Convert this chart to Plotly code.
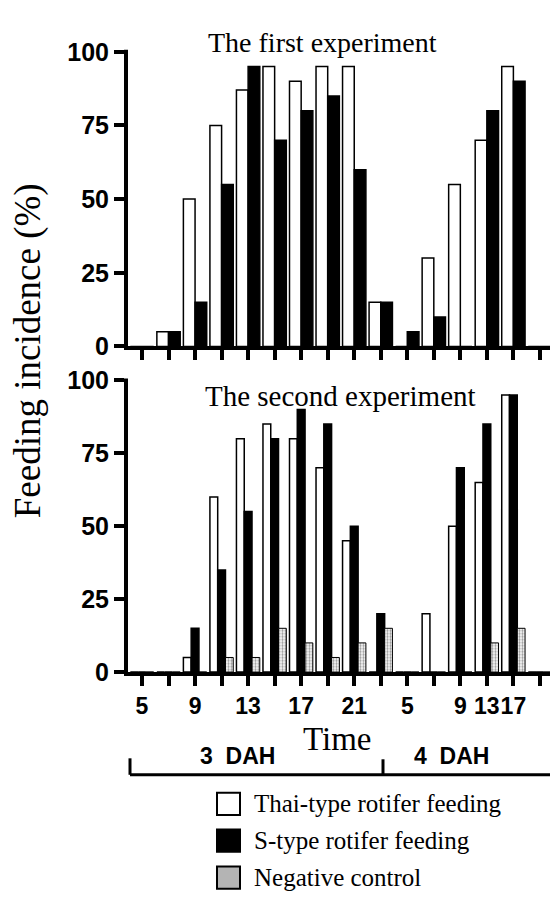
import plotly.graph_objects as go

# Sampling times (hour of day) on 3 and 4 days after hatching
slot_labels = ["5", "", "9", "", "13", "", "17", "", "21", "", "5", "", "9", "13", "17", ""]

# First experiment: feeding incidence (%)
exp1_thai = [0, 5, 50, 75, 87, 95, 90, 95, 95, 15, 0, 30, 55, 70, 95, 0]
exp1_stype = [0, 5, 15, 55, 95, 70, 80, 85, 60, 15, 5, 10, 0, 80, 90, 0]

# Second experiment: feeding incidence (%)
exp2_thai = [0, 0, 5, 60, 80, 85, 80, 70, 45, 0, 0, 20, 50, 65, 95, 0]
exp2_stype = [0, 0, 15, 35, 55, 80, 90, 85, 50, 20, 0, 0, 70, 85, 95, 0]
exp2_neg = [0, 0, 0, 5, 5, 15, 10, 5, 10, 15, 0, 0, 0, 10, 15, 0]

y_ticks = [0, 25, 50, 75, 100]

W, H = 550, 908
SANS = "Liberation Sans, Arial, sans-serif"
SERIF = "Liberation Serif, Times New Roman, serif"


def px(x):
    return x / W


def py(y):
    return 1 - y / H


xs = list(range(len(slot_labels)))
line_w = 1.5

fig = go.Figure()

fig.add_trace(go.Bar(x=xs, y=exp1_thai, marker=dict(color="white", line=dict(color="black", width=line_w)),
                     xaxis="x", yaxis="y", showlegend=False))
fig.add_trace(go.Bar(x=xs, y=exp1_stype, marker=dict(color="black", line=dict(color="black", width=line_w)),
                     xaxis="x", yaxis="y", showlegend=False))

fig.add_trace(go.Bar(x=xs, y=exp2_thai, marker=dict(color="white", line=dict(color="black", width=line_w)),
                     xaxis="x2", yaxis="y2", showlegend=False))
fig.add_trace(go.Bar(x=xs, y=exp2_stype, marker=dict(color="black", line=dict(color="black", width=line_w)),
                     xaxis="x2", yaxis="y2", showlegend=False))
fig.add_trace(go.Bar(x=xs, y=exp2_neg,
                     marker=dict(color="white", line=dict(color="black", width=1),
                                 pattern=dict(shape=".", fgcolor="#333333", bgcolor="white",
                                              size=3, solidity=0.45)),
                     xaxis="x2", yaxis="y2", showlegend=False))

x_range = [-0.528, 15.38]
axis_common = dict(showline=True, linecolor="black", linewidth=4, ticks="outside",
                   tickwidth=4, ticklen=10, tickcolor="black", showgrid=False, zeroline=False,
                   tickangle=0)
y_font = dict(family=SANS, size=25, color="black", weight="bold")
x_font = dict(family=SANS, size=23, color="black", weight="bold")

fig.update_layout(
    width=W, height=H,
    margin=dict(l=0, r=0, t=0, b=0),
    paper_bgcolor="white", plot_bgcolor="white",
    barmode="group", bargap=0.12, bargroupgap=0,
    xaxis=dict(domain=[px(128), 1], range=x_range, anchor="y", tickfont=x_font,
               tickvals=xs, ticktext=slot_labels, showticklabels=False, **axis_common),
    yaxis=dict(domain=[py(343), py(39)], range=[0, 100], anchor="x", tickfont=y_font,
               tickvals=y_ticks, **axis_common),
    xaxis2=dict(domain=[px(128), 1], range=x_range, anchor="y2", tickfont=x_font,
                tickvals=xs, ticktext=slot_labels, **axis_common),
    yaxis2=dict(domain=[py(679), py(378)], range=[0, 100], anchor="x2", tickfont=y_font,
                tickvals=y_ticks, **axis_common),
)

annotations = [
    dict(text="The first experiment", x=px(322), y=py(29), font=dict(family=SERIF, size=28)),
    dict(text="The second experiment", x=px(340), y=py(394), font=dict(family=SERIF, size=29)),
    dict(text="Feeding incidence (%)", x=px(28), y=py(348), textangle=-90, font=dict(family=SERIF, size=37)),
    dict(text="Time", x=px(337), y=py(748), font=dict(family=SERIF, size=33)),
    dict(text="3  DAH", x=px(237), y=py(766), font=dict(family=SANS, size=23, weight="bold")),
    dict(text="4  DAH", x=px(451), y=py(766), font=dict(family=SANS, size=23, weight="bold")),
]

legend_items = [
    ("Thai-type rotifer feeding", "white", 815),
    ("S-type rotifer feeding", "black", 853),
    ("Negative control", "#b4b4b4", 891),
]

shapes = [
    # vertical axis spines of both panels
    dict(type="line", x0=px(126), x1=px(126), y0=py(345), y1=py(37)),
    dict(type="line", x0=px(126), x1=px(126), y0=py(681), y1=py(376)),
    # day bracket under the time axis
    dict(type="line", x0=px(130), x1=px(550), y0=py(785), y1=py(785)),
    dict(type="line", x0=px(130), x1=px(130), y0=py(768), y1=py(785)),
    dict(type="line", x0=px(383), x1=px(383), y0=py(769), y1=py(785)),
]
for i, s in enumerate(shapes):
    s.update(xref="paper", yref="paper", line=dict(color="black", width=4 if i < 2 else 3))

for label, fill, yc in legend_items:
    shapes.append(dict(type="rect", xref="paper", yref="paper",
                       x0=px(217), x1=px(240), y0=py(yc - 11.5), y1=py(yc + 11.5),
                       fillcolor=fill, line=dict(color="black", width=2)))
    annotations.append(dict(text=label, x=px(252), y=py(yc), xanchor="left",
                            font=dict(family=SERIF, size=25)))

for a in annotations:
    a.setdefault("xanchor", "center")
    a.update(xref="paper", yref="paper", yanchor="middle", showarrow=False)
    a["font"]["color"] = "black"

fig.update_layout(annotations=annotations, shapes=shapes)

fig.write_html("out.html")
